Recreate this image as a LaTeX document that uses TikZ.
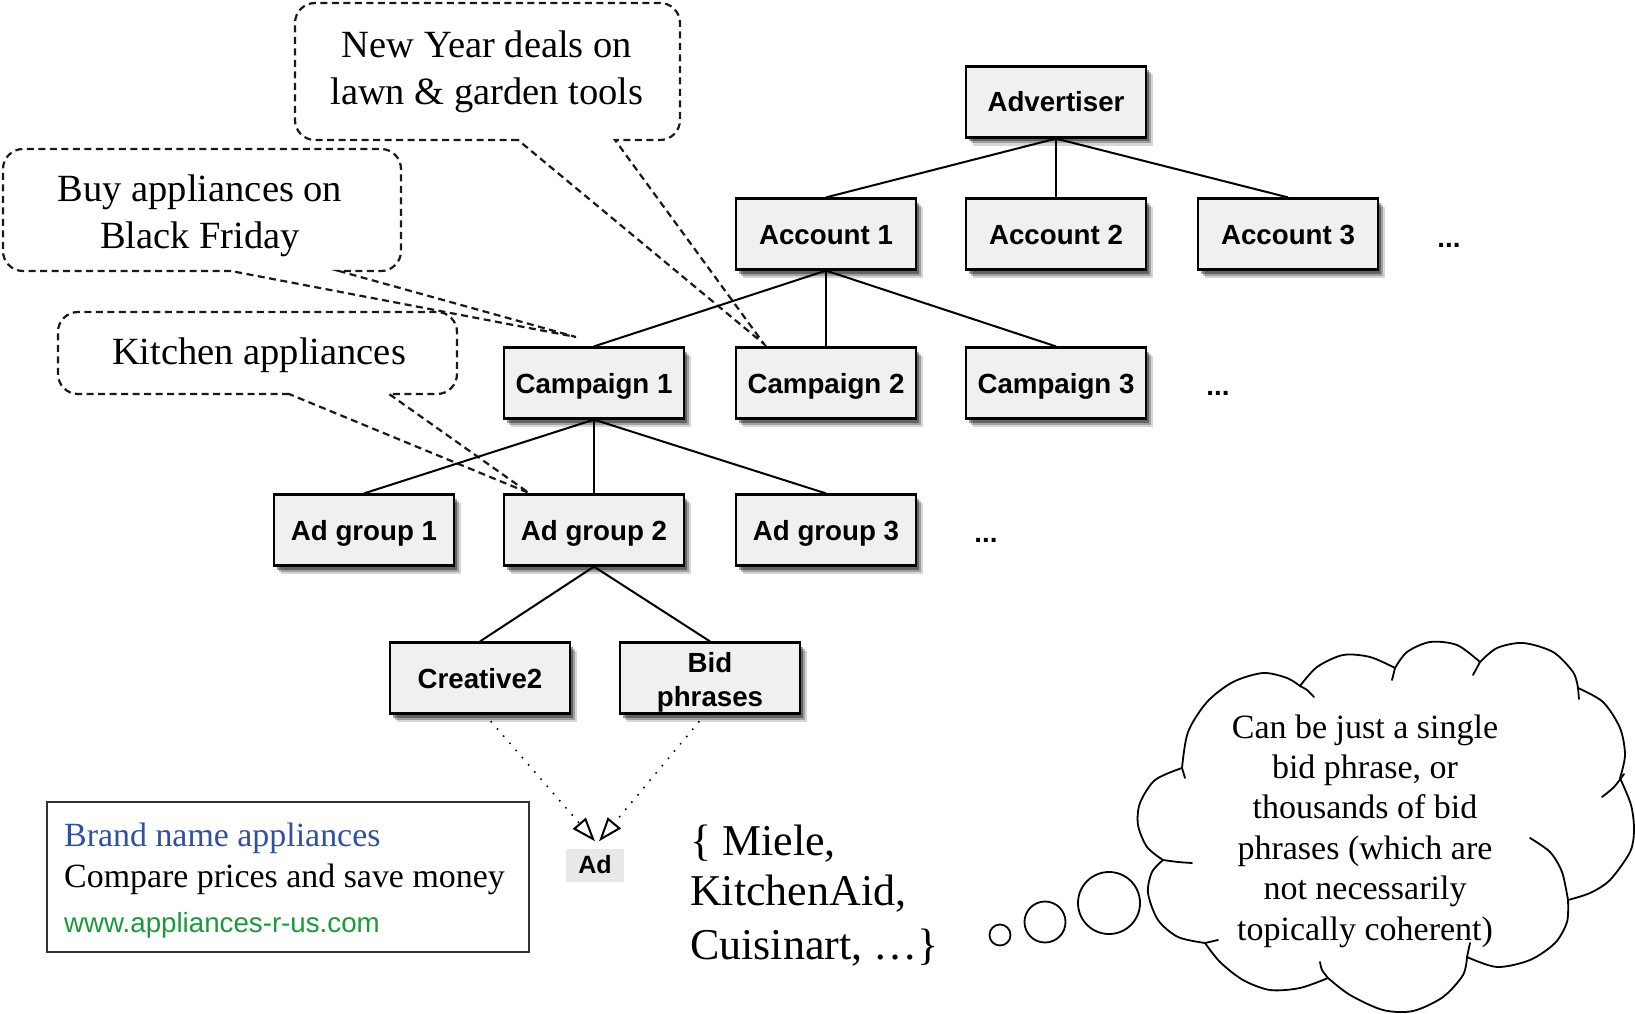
\documentclass[tikz,border=0pt]{standalone}
\usepackage{fontspec}
\setmainfont{Liberation Serif}
\setsansfont{Liberation Sans}
\usetikzlibrary{shadows,arrows.meta}
\definecolor{boxfill}{HTML}{F0F0F0}
\definecolor{adblue}{HTML}{3050A0}
\definecolor{adgreen}{HTML}{1A9A3A}
\begin{document}
\begin{tikzpicture}[x=1pt,y=-1pt,
  box/.style={draw=black, line width=2.2pt, fill=boxfill, minimum width=180pt, minimum height=71pt,
    inner sep=0pt, font=\sffamily\bfseries\fontsize{27.7}{34}\selectfont,
    drop shadow={shadow xshift=7pt,shadow yshift=-8pt,opacity=0.16,fill=black},
    drop shadow={shadow xshift=5pt,shadow yshift=-6pt,opacity=0.25,fill=black},
    drop shadow={shadow xshift=3pt,shadow yshift=-4pt,opacity=0.38,fill=black}},
  onel/.style={box, text height=20pt, text depth=0pt},
  tree/.style={line width=2pt},
  callout/.style={line width=2.2pt, dash pattern=on 7pt off 4.5pt, draw=black!90},
  ctext/.style={font=\fontsize{38.5}{47}\selectfont, align=center},
  moredots/.style={font=\sffamily\bfseries\fontsize{27.7}{34}\selectfont},
  dotarrow/.style={line width=2.2pt, dash pattern=on 0pt off 9.5pt, line cap=round,
    -{Triangle[open,length=24pt,width=17pt,line width=2pt]}},
  adtext/.style={anchor=base west, inner sep=0pt, font=\fontsize{33.9}{40}\selectfont},
  settext/.style={anchor=base west, inner sep=0pt, font=\fontsize{44}{52}\selectfont},
  bubble/.style={circle, draw, line width=1.8pt, inner sep=0pt},
  cloudline/.style={line width=1.8pt, line cap=round}
]
\useasboundingbox (0,0) rectangle (1635,1014);
\fill[white] (0,0) rectangle (1635,1014);

% callouts
\coordinate (nytip) at (764,344);
\coordinate (bftip) at (576,337);
\coordinate (katip) at (529,493);
\draw[callout] (518,140) [rounded corners=20] -- (295,140) -- (295,3) -- (680,3) -- (680,140)
  [sharp corners] -- (615,140) -- (nytip) -- cycle;
\draw[callout] (231,271) [rounded corners=20] -- (3,271) -- (3,149) -- (401,149) -- (401,271)
  [sharp corners] -- (339,271) -- (bftip) -- cycle;
\draw[callout] (289,394) [rounded corners=20] -- (58,394) -- (58,312) -- (457,312) -- (457,394)
  [sharp corners] -- (389,394) -- (katip) -- cycle;
\node[ctext] (ny) at (487,72) {New Year deals on\\lawn \& garden tools};
\node[ctext] (bf) at (200,216) {Buy appliances on\\Black Friday};
\node[ctext] (ka) at (259,355) {Kitchen appliances};

% tree
\node[onel] (adv) at (1056,102) {Advertiser};
\node[onel] (acc1) at (826,234) {Account 1};
\node[onel] (acc2) at (1056,234) {Account 2};
\node[onel] (acc3) at (1288,234) {Account 3};
\node[moredots] (d1) at (1449,245) {...};
\node[onel] (camp1) at (594,383) {Campaign 1};
\node[onel] (camp2) at (826,383) {Campaign 2};
\node[onel] (camp3) at (1056,383) {Campaign 3};
\node[moredots] (d2) at (1218,393) {...};
\node[onel] (ag1) at (364,530) {Ad group 1};
\node[onel] (ag2) at (594,530) {Ad group 2};
\node[onel] (ag3) at (826,530) {Ad group 3};
\node[moredots] (d3) at (986,540) {...};
\node[onel] (cre) at (480,678) {Creative2};
\node[box] (bid) at (710,678) {\raisebox{-5pt}[\height][\depth]{\begin{tabular}{@{}c@{}}Bid\\phrases\end{tabular}}};

\foreach \c in {acc1,acc2,acc3} \draw[tree] (adv.south) -- (\c.north);
\foreach \c in {camp1,camp2,camp3} \draw[tree] (acc1.south) -- (\c.north);
\foreach \c in {ag1,ag2,ag3} \draw[tree] (camp1.south) -- (\c.north);
\foreach \c in {cre,bid} \draw[tree] (ag2.south) -- (\c.north);

% Ad
\node[fill=black!9, minimum width=58pt, minimum height=33pt, inner sep=0pt,
  font=\sffamily\bfseries\fontsize{25}{30}\selectfont] (ad) at (595,865) {Ad};
\coordinate (adinL) at ([xshift=0pt,yshift=7pt]ad.north);
\coordinate (adinR) at ([xshift=4pt,yshift=7pt]ad.north);
\draw[dotarrow] ([xshift=5pt]cre.south) -- (adinL);
\draw[dotarrow] ([xshift=-5pt]bid.south) -- (adinR);

% ad creative
\node[draw=black!80, line width=1.5pt, minimum width=482pt, minimum height=150pt,
  anchor=north west, inner sep=0pt] (adbox) at (46,801) {};
\node[adtext, text=adblue] (l1) at (64,846) {Brand name appliances};
\node[adtext] (l2) at (64,887) {Compare prices and save money};
\node[adtext, font=\sffamily\fontsize{27.7}{33}\selectfont, text=adgreen] (l3) at (64,932) {www.appliances-r-us.com};

% bid phrase set
\node[settext] (s1) at (690,855) {\{ Miele,};
\node[settext] (s2) at (690,905) {KitchenAid,};
\node[settext] (s3) at (690,959) {Cuisinart, \ldots\}};

% thought bubbles
\node[bubble, minimum size=21pt] (b1) at (1000,935) {};
\node[bubble, minimum size=41pt] (b2) at (1045,922) {};
\node[bubble, minimum size=62pt] (b3) at (1109,903) {};

% cloud outline (puffs)
\draw[cloudline] plot[smooth] coordinates {(1182,768) (1188,732) (1207,702) (1233,682) (1263,673) (1287,678) (1300,686)};
\draw[cloudline] plot[smooth] coordinates {(1300,686) (1317,667) (1343,655) (1370,657) (1395,668)};
\draw[cloudline] plot[smooth] coordinates {(1395,668) (1407,652) (1430,642) (1457,645) (1480,662)};
\draw[cloudline] plot[smooth] coordinates {(1480,662) (1497,648) (1523,643) (1553,652) (1573,672) (1578,688)};
\draw[cloudline] plot[smooth] coordinates {(1578,688) (1603,702) (1620,728) (1625,755) (1620,778)};
\draw[cloudline] plot[smooth] coordinates {(1620,778) (1631,805) (1634,830) (1630,852) (1610,880) (1590,893) (1568,900)};
\draw[cloudline] plot[smooth] coordinates {(1568,900) (1567,922) (1555,943) (1530,960) (1497,967) (1467,957)};
\draw[cloudline] plot[smooth] coordinates {(1467,957) (1463,975) (1443,997) (1413,1011) (1383,1010) (1350,995) (1328,978)};
\draw[cloudline] plot[smooth] coordinates {(1328,978) (1300,988) (1270,990) (1243,980) (1220,962) (1205,943)};
\draw[cloudline] plot[smooth] coordinates {(1205,943) (1178,937) (1158,920) (1148,893) (1152,872) (1163,860)};
\draw[cloudline] plot[smooth] coordinates {(1163,860) (1147,847) (1138,825) (1140,803) (1155,780) (1182,768)};
% inner hooks
\draw[cloudline] (1182,768) -- (1185,778);
\draw[cloudline] plot[smooth] coordinates {(1300,686) (1307,690) (1314,697)};
\draw[cloudline] (1395,668) -- (1392,680);
\draw[cloudline] (1480,662) -- (1473,675);
\draw[cloudline] (1578,688) -- (1579,699);
\draw[cloudline] plot[smooth] coordinates {(1624,774) (1614,787) (1602,797)};
\draw[cloudline] plot[smooth] coordinates {(1530,838) (1550,852) (1562,872) (1568,900)};
\draw[cloudline] (1467,957) -- (1470,943);
\draw[cloudline] plot[smooth] coordinates {(1328,978) (1322,970) (1320,962)};
\draw[cloudline] (1205,943) -- (1218,940);
\draw[cloudline] plot[smooth] coordinates {(1163,860) (1178,862) (1192,863)};

\node[align=center, font=\fontsize{34}{40.4}\selectfont] (ct) at (1365,831)
  {Can be just a single\\bid phrase, or\\thousands of bid\\phrases (which are\\not necessarily\\topically coherent)};
\end{tikzpicture}
\end{document}
